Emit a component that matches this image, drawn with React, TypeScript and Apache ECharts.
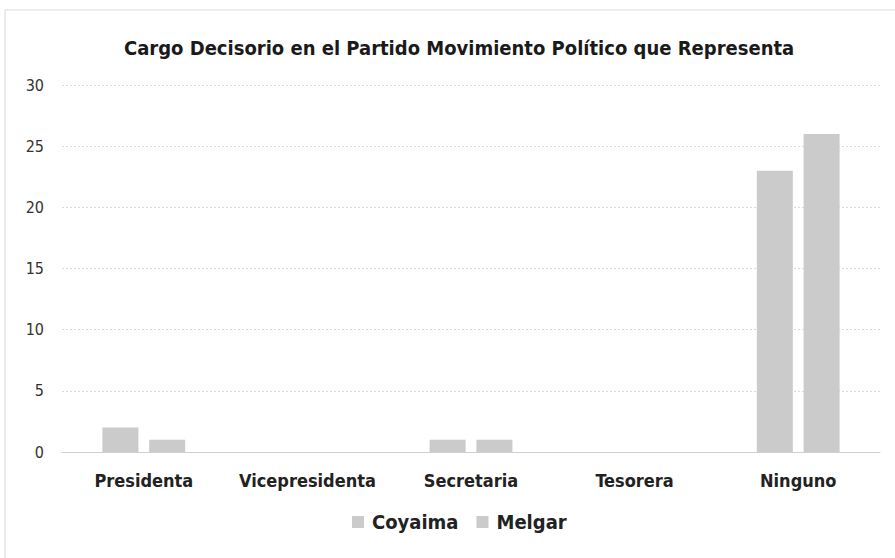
import React, { useEffect, useRef } from "react";
import * as echarts from "echarts";

const categories = ["Presidenta", "Vicepresidenta", "Secretaria", "Tesorera", "Ninguno"];
const coyaima = [2, 0, 1, 0, 23];
const melgar = [1, 0, 1, 0, 26];
const titleText = "Cargo Decisorio en el Partido Movimiento Político que Representa";

const FONT = "'Liberation Sans Narrow', 'DejaVu Sans Condensed', 'Open Sans', sans-serif";

export default function App() {
  const ref = useRef<HTMLDivElement>(null);
  useEffect(() => {
    const chart = echarts.init(ref.current!, null, { renderer: "svg" });
    chart.setOption({
      animation: false,
      backgroundColor: "#ffffff",
      graphic: [
        {
          type: "rect",
          shape: { x: 5, y: 10, width: 900, height: 560 },
          style: { fill: "none", stroke: "#d9d9d9", lineWidth: 1 },
          silent: true,
        },
      ],
      title: {
        text: titleText,
        left: 119,
        top: 33,
        textStyle: { fontFamily: FONT, fontSize: 20, fontWeight: "bold", color: "#1a1a1a" },
      },
      legend: {
        bottom: 21,
        left: 347,
        itemWidth: 12,
        itemHeight: 12,
        itemGap: 18,
        icon: "rect",
        textStyle: { fontFamily: FONT, fontSize: 20, fontWeight: "bold", color: "#222", padding: [0, 0, 0, 3] },
        data: ["Coyaima", "Melgar"],
      },
      grid: { left: 62, right: 15, top: 85, bottom: 106, containLabel: false },
      xAxis: {
        type: "category",
        data: categories,
        axisLine: { lineStyle: { color: "#d0d0d0" } },
        axisTick: { show: false },
        axisLabel: { interval: 0, fontFamily: FONT, fontSize: 18, fontWeight: "bold", color: "#222", margin: 19 },
      },
      yAxis: {
        type: "value",
        min: 0,
        max: 30,
        interval: 5,
        axisLine: { show: false },
        axisTick: { show: false },
        splitLine: { lineStyle: { color: "#d9d9d9", type: [2, 2], width: 1 } },
        axisLabel: { fontFamily: FONT, fontSize: 16, color: "#333", margin: 18 },
      },
      series: [
        {
          name: "Coyaima",
          type: "bar",
          data: coyaima,
          barWidth: 36,
          barGap: "30%",
          itemStyle: { color: "#cbcbcb" },
        },
        {
          name: "Melgar",
          type: "bar",
          data: melgar,
          barWidth: 36,
          barGap: "30%",
          itemStyle: { color: "#cbcbcb" },
        },
      ],
    });
    return () => chart.dispose();
  }, []);
  return <div ref={ref} style={{ width: 895, height: 558, position: "absolute", left: 0, top: 0 }} />;
}
